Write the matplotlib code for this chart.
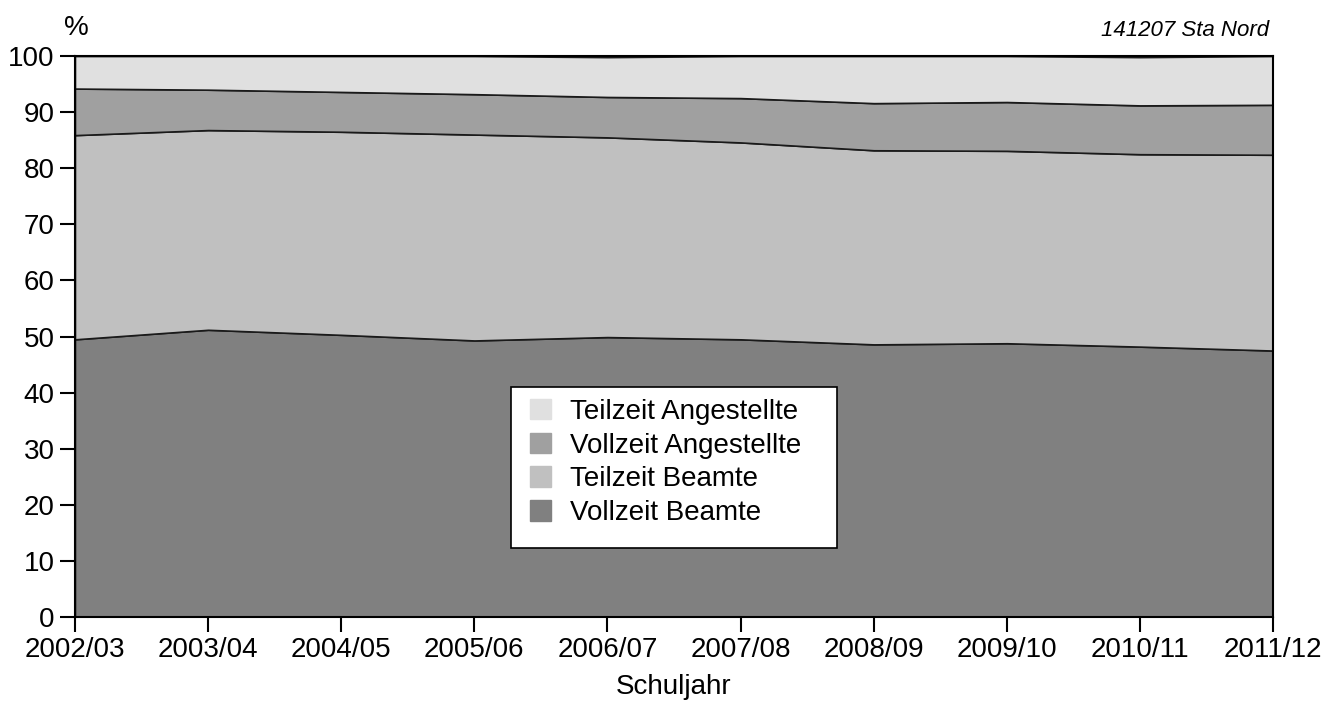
import matplotlib.pyplot as plt
from matplotlib.patches import Patch, Rectangle

plt.rcParams['font.family'] = ['Liberation Sans', 'DejaVu Sans']

years = ['2002/03', '2003/04', '2004/05', '2005/06', '2006/07',
         '2007/08', '2008/09', '2009/10', '2010/11', '2011/12']

# shares in percent
vollzeit_beamte = [49.5, 51.2, 50.3, 49.3, 49.9, 49.5, 48.6, 48.8, 48.2, 47.5]
teilzeit_beamte = [36.4, 35.6, 36.2, 36.7, 35.6, 35.1, 34.6, 34.3, 34.3, 34.9]
vollzeit_angest = [8.3, 7.2, 7.1, 7.2, 7.2, 7.9, 8.4, 8.7, 8.7, 8.9]
teilzeit_angest = [5.8, 6.0, 6.4, 6.8, 7.1, 7.5, 8.4, 8.2, 8.6, 8.7]

labels = ['Vollzeit Beamte', 'Teilzeit Beamte', 'Vollzeit Angestellte',
          'Teilzeit Angestellte']
colors = ['#808080', '#c0c0c0', '#a0a0a0', '#e0e0e0']

fs = 20

fig = plt.figure(figsize=(13.43, 7.03), dpi=100)
ax = fig.add_axes([0.0558, 0.1223, 0.8922, 0.798])

x = list(range(len(years)))
ax.stackplot(x, vollzeit_beamte, teilzeit_beamte, vollzeit_angest,
             teilzeit_angest, colors=colors, edgecolor='#1a1a1a',
             linewidth=1.2)

ax.set_xlim(0, len(years) - 1)
ax.set_ylim(0, 100)
ax.set_yticks(range(0, 101, 10))
ax.set_xticks(x)
ax.set_xticklabels(years)
ax.tick_params(labelsize=fs, length=10.5, width=1.5, direction='out', pad=4)
for s in ax.spines.values():
    s.set_linewidth(1.5)

ax.set_xlabel('Schuljahr', fontsize=fs, labelpad=8)
fig.text(0.0566, 0.96, '%', fontsize=fs, ha='center', va='center')
fig.text(0.945, 0.957, '141207 Sta Nord', fontsize=16, style='italic',
         ha='right', va='center')

# legend box with blank space below the entries
ax.add_patch(Rectangle((0.364, 0.123), 0.272, 0.287, transform=ax.transAxes,
                       facecolor='white', edgecolor='black', linewidth=1.2,
                       zorder=4))
handles = [Patch(color=c) for c in colors[::-1]]
leg = ax.legend(handles, labels[::-1], loc='upper left',
                bbox_to_anchor=(0.3798, 0.389),
                fontsize=fs, frameon=False,
                handlelength=0.75, handleheight=0.75, handletextpad=0.7,
                borderpad=0, labelspacing=0.28, borderaxespad=0)
leg.set_zorder(5)

fig.savefig('out.png', dpi=100)
